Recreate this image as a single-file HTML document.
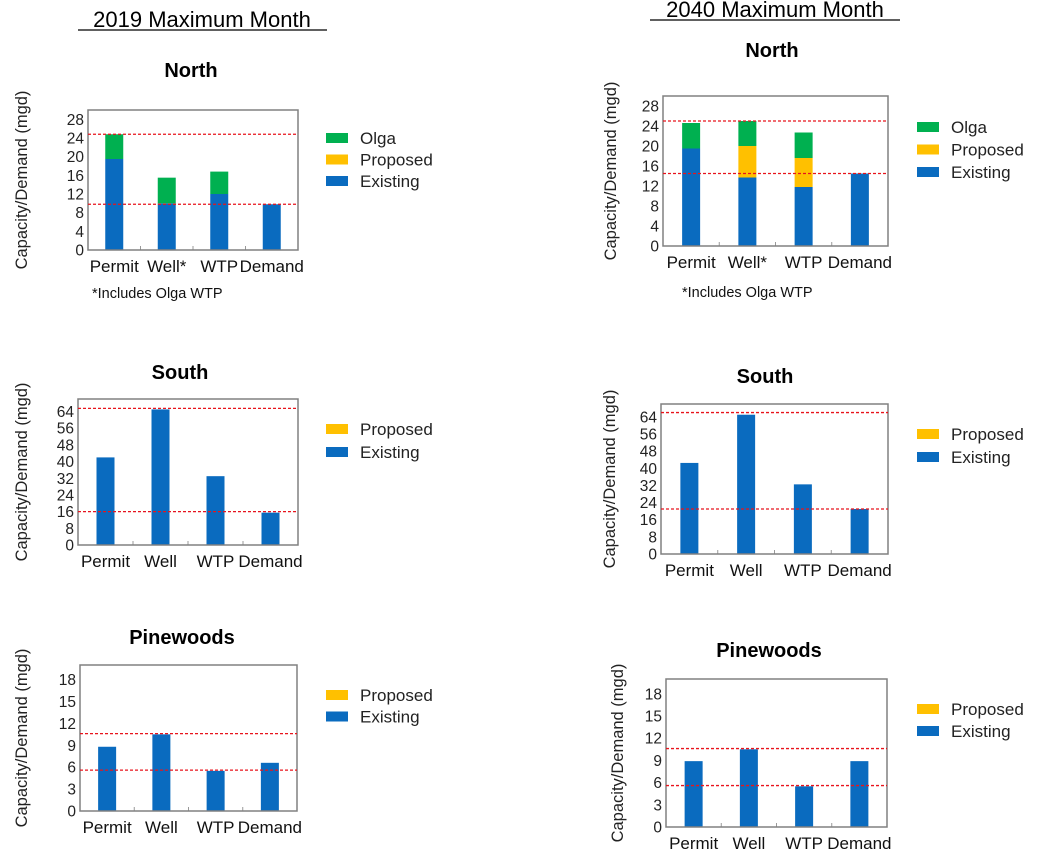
<!DOCTYPE html>
<html><head><meta charset="utf-8"><style>
body{margin:0;background:#fff;width:1040px;height:853px;overflow:hidden;font-family:"Liberation Sans",Arial,sans-serif}
svg text{font-family:"Liberation Sans",Arial,sans-serif}
</style></head><body>
<svg id="root" width="1040" height="853">
<text x="202" y="27" font-size="22" text-anchor="middle">2019 Maximum Month</text>
<line x1="78" y1="30" x2="327" y2="30" stroke="#000" stroke-width="1.3"/>
<text x="775" y="17" font-size="22" text-anchor="middle">2040 Maximum Month</text>
<line x1="650" y1="20" x2="900" y2="20" stroke="#000" stroke-width="1.3"/>
</svg>
<script>
const categories = ["Permit","Well*","WTP","Demand"];
const categoriesS = ["Permit","Well","WTP","Demand"];
// North 2019
const n19Existing = [19.5,10,12,9.8];
const n19Proposed = [0,0,0,0];
const n19Olga = [5.3,5.5,4.8,0];
const n19Lines = [24.8,9.8];
const n19Ticks = [0,4,8,12,16,20,24,28];
// North 2040
const n40Existing = [19.5,13.7,11.8,14.5];
const n40Proposed = [0,6.3,5.8,0];
const n40Olga = [5.1,5,5.1,0];
const n40Lines = [25,14.5];
// South 2019
const s19Existing = [42,65,33,15.5];
const s19Proposed = [0,0,0,0];
const s19Lines = [65.5,16];
const sTicks = [0,8,16,24,32,40,48,56,64];
// South 2040
const s40Existing = [42.5,65,32.5,21];
const s40Proposed = [0,0,0,0];
const s40Lines = [66,21];
// Pinewoods 2019
const p19Existing = [8.8,10.5,5.5,6.6];
const p19Proposed = [0,0,0,0];
const p19Lines = [10.6,5.6];
const pTicks = [0,3,6,9,12,15,18];
// Pinewoods 2040
const p40Existing = [8.9,10.5,5.5,8.9];
const p40Proposed = [0,0,0,0];
const p40Lines = [10.6,5.6];

const BLUE="#0a6bbf",ORANGE="#ffc000",GREEN="#00b050";
const NS="http://www.w3.org/2000/svg";
const root=document.getElementById('root');
function mk(tag,attrs,parent){const e=document.createElementNS(NS,tag);for(const k in attrs)e.setAttribute(k,attrs[k]);(parent||root).appendChild(e);return e;}

function chart(cfg){
  const g=mk('g',{});
  
  
  const {x0,x1,yTop,yZero,max}=cfg;
  const ys=v=>yZero-(v/max)*(yZero-yTop);
  const bw=(x1-x0)/cfg.cats.length;
  const xc=i=>x0+bw*(i+0.5);
  const t=mk('text',{x:cfg.titleX,y:cfg.titleY,'font-size':20,'font-weight':'bold','text-anchor':'middle'},g);
  t.textContent=cfg.title;
  
  
  cfg.ticks.forEach(v=>{
    const tt=mk('text',{x:x0-4,y:ys(v)+5.5,'font-size':15.5,'text-anchor':'end',fill:'#222'},g);
    tt.textContent=v;
    
    
  });
  cfg.cats.forEach((c,i)=>{
    let base=0;
    cfg.series.forEach(s=>{
      const v=s.vals[i]; if(!v) return;
      const r=mk('rect',{x:xc(i)-9,y:ys(base+v),width:18,height:ys(base)-ys(base+v),fill:s.color},g);
      
      
      base+=v;
    });
    const l=mk('text',{x:xc(i),y:yZero+22,'font-size':17,'text-anchor':'middle',fill:'#111'},g);
    l.textContent=c;
    
    
    if(i>0){mk('line',{x1:x0+bw*i,x2:x0+bw*i,y1:yZero,y2:yZero-4,stroke:'#999'},g);}
  });
  const b=mk('rect',{x:x0,y:yTop,width:x1-x0,height:yZero-yTop,fill:'none',stroke:'#808080','stroke-width':1.5},g);
  
  
  cfg.lines.forEach(v=>{
    const ln=mk('line',{x1:x0,x2:x1,y1:ys(v),y2:ys(v),stroke:'#e8141c','stroke-width':1.3,'stroke-dasharray':'3,2'},g);
    
    
  });
  const yc=(yTop+yZero)/2;
  const ya=mk('text',{x:cfg.yTitleX,y:yc,'font-size':16.5,'text-anchor':'middle',transform:`rotate(-90 ${cfg.yTitleX} ${yc})`,fill:'#222'},g);
  ya.textContent='Capacity/Demand (mgd)';
  
  
  cfg.legend.forEach((L,k)=>{
    const y=cfg.legY+k*cfg.legGap;
    const sw=mk('rect',{x:cfg.legX,y:y-5,width:22,height:10,fill:L.color},g);
    
    
    const lt=mk('text',{x:cfg.legX+34,y:y+6,'font-size':17,fill:'#222'},g);
    lt.textContent=L.label;
    
    
  });
  if(cfg.note){
    const n=mk('text',{x:cfg.note[0],y:cfg.note[1],'font-size':14.5,fill:'#111'},g);
    n.textContent='*Includes Olga WTP';
    
    
  }
}
const legN=[{label:'Olga',color:GREEN},{label:'Proposed',color:ORANGE},{label:'Existing',color:BLUE}];
const legS=[{label:'Proposed',color:ORANGE},{label:'Existing',color:BLUE}];
chart({name:'north-2019-chart',title:'North',titleX:191,titleY:77,x0:88,x1:298,yTop:110,yZero:250,max:30,ticks:n19Ticks,cats:categories,
  series:[{key:'existing',vals:n19Existing,color:BLUE},{key:'proposed',vals:n19Proposed,color:ORANGE},{key:'olga',vals:n19Olga,color:GREEN}],
  lines:n19Lines,yTitleX:27,legend:legN,legX:326,legY:138,legGap:21.5,note:[92,298]});
chart({name:'north-2040-chart',title:'North',titleX:772,titleY:57,x0:663,x1:888,yTop:96,yZero:246,max:30,ticks:n19Ticks,cats:categories,
  series:[{key:'existing',vals:n40Existing,color:BLUE},{key:'proposed',vals:n40Proposed,color:ORANGE},{key:'olga',vals:n40Olga,color:GREEN}],
  lines:n40Lines,yTitleX:616,legend:legN,legX:917,legY:127,legGap:22.5,note:[682,297]});
chart({name:'south-2019-chart',title:'South',titleX:180,titleY:379,x0:78,x1:298,yTop:399,yZero:545,max:70,ticks:sTicks,cats:categoriesS,
  series:[{key:'existing',vals:s19Existing,color:BLUE},{key:'proposed',vals:s19Proposed,color:ORANGE}],
  lines:s19Lines,yTitleX:27,legend:legS,legX:326,legY:429,legGap:23});
chart({name:'south-2040-chart',title:'South',titleX:765,titleY:383,x0:661,x1:888,yTop:404,yZero:554,max:70,ticks:sTicks,cats:categoriesS,
  series:[{key:'existing',vals:s40Existing,color:BLUE},{key:'proposed',vals:s40Proposed,color:ORANGE}],
  lines:s40Lines,yTitleX:615,legend:legS,legX:917,legY:434,legGap:23});
chart({name:'pinewoods-2019-chart',title:'Pinewoods',titleX:182,titleY:644,x0:80,x1:297,yTop:665,yZero:811,max:20,ticks:pTicks,cats:categoriesS,
  series:[{key:'existing',vals:p19Existing,color:BLUE},{key:'proposed',vals:p19Proposed,color:ORANGE}],
  lines:p19Lines,yTitleX:27,legend:legS,legX:326,legY:695,legGap:21.5});
chart({name:'pinewoods-2040-chart',title:'Pinewoods',titleX:769,titleY:657,x0:666,x1:887,yTop:679,yZero:827,max:20,ticks:pTicks,cats:categoriesS,
  series:[{key:'existing',vals:p40Existing,color:BLUE},{key:'proposed',vals:p40Proposed,color:ORANGE}],
  lines:p40Lines,yTitleX:623,legend:legS,legX:917,legY:709,legGap:22});
</script>
</body></html>
